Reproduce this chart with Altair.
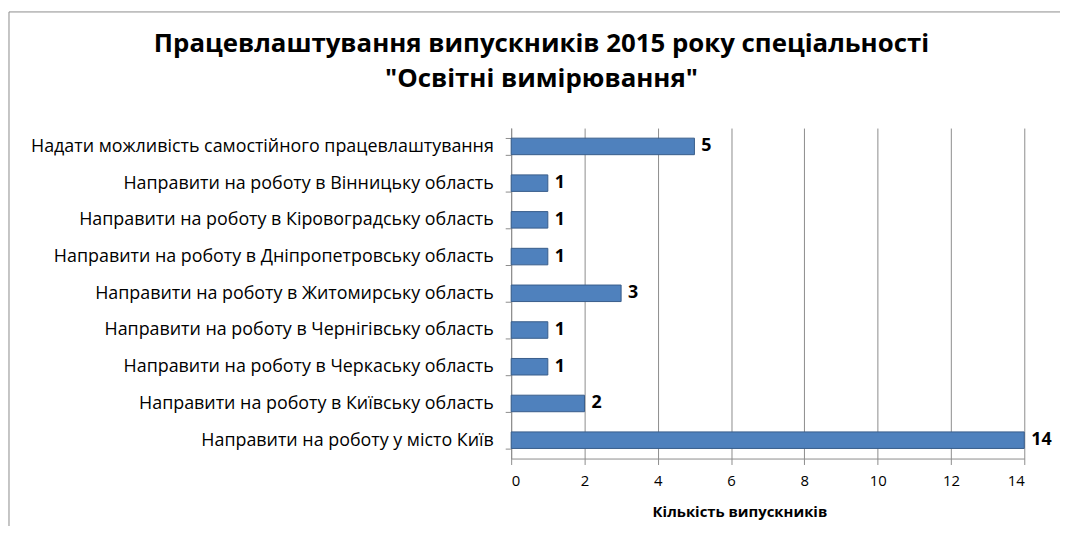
import altair as alt
import pandas as pd

categories = [
    "Надати можливість самостійного працевлаштування",
    "Направити на роботу в Вінницьку область",
    "Направити на роботу в Кіровоградську область",
    "Направити на роботу в Дніпропетровську область",
    "Направити на роботу в Житомирську область",
    "Направити на роботу в Чернігівську область",
    "Направити на роботу в Черкаську область",
    "Направити на роботу в Київську область",
    "Направити на роботу у місто Київ",
]
values = [5, 1, 1, 1, 3, 1, 1, 2, 14]
x_ticks = [0, 2, 4, 6, 8, 10, 12, 14]

df = pd.DataFrame({"cat": categories, "val": values})

FONT = "Open Sans"

x = alt.X("val:Q", scale=alt.Scale(domain=[0, 14], nice=False),
          axis=alt.Axis(values=x_ticks, title="Кількість випускників", titleFontWeight="bold",
                        titleFontSize=15, titlePadding=16, labelFontSize=15, labelPadding=9,
                        grid=True, gridColor="#8c8c8c", domainColor="#8c8c8c", tickColor="#8c8c8c",
                        tickSize=6, labelColor="#000", titleColor="#000", titleX=230))
y = alt.Y("cat:N", sort=categories,
          scale=alt.Scale(paddingInner=0.55, paddingOuter=0.275),
          axis=alt.Axis(title=None, labelFontSize=18, labelColor="#000", labelPadding=12,
                        domainColor="#8c8c8c", tickColor="#8c8c8c", tickSize=6, labelLimit=700,
                        tickBand="extent"))

border = alt.Chart(pd.DataFrame({"a": [0]})).mark_rect(
    fill=None, stroke="#8c8c8c", strokeWidth=1, clip=False
).encode(x=alt.value(-506), x2=alt.value(620), y=alt.value(-117), y2=alt.value(460))

bars = alt.Chart(df).mark_bar(color="#4F81BD", stroke="#385d8a", strokeWidth=1).encode(x=x, y=y)
labels = alt.Chart(df).mark_text(align="left", dx=7, fontSize=18, fontWeight="bold",
                                 color="#000", font=FONT).encode(
    x="val:Q", y=alt.Y("cat:N", sort=categories), text="val:Q")

chart = alt.layer(border, bars, labels).properties(
    width=517, height=333,
    padding={"left": 507, "top": 119, "right": 36, "bottom": 66},
    autosize=alt.AutoSizeParams(type="none"),
    title=alt.TitleParams(
        text=["Працевлаштування випускників 2015 року спеціальності", "\"Освітні вимірювання\""],
        fontSize=26, fontWeight="bold", font=FONT, color="#000", anchor="middle", dx=-228,
        offset=20, dy=101, lineHeight=35),
).configure(font=FONT).configure_view(stroke=None)

chart.save("out.html", embed_options={"renderer": "svg", "actions": False})
